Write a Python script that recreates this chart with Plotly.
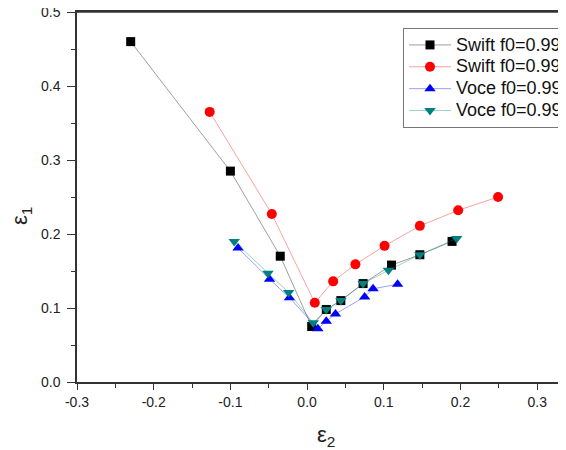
import plotly.graph_objects as go

# Swift f0=0.99
swift099_x = [-0.230, -0.100, -0.035, 0.006, 0.025, 0.044, 0.073, 0.110, 0.147, 0.189]
swift099_y = [0.460, 0.285, 0.170, 0.075, 0.098, 0.110, 0.133, 0.158, 0.172, 0.190]
# Swift f0=0.998
swift0998_x = [-0.127, -0.046, 0.010, 0.034, 0.063, 0.101, 0.147, 0.197, 0.249]
swift0998_y = [0.365, 0.227, 0.107, 0.136, 0.159, 0.184, 0.211, 0.232, 0.250]
# Voce f0=0.99
voce099_x = [-0.090, -0.049, -0.023, 0.014, 0.025, 0.037, 0.075, 0.086, 0.118]
voce099_y = [0.181, 0.139, 0.114, 0.072, 0.082, 0.092, 0.115, 0.126, 0.132]
# Voce f0=0.998
voce0998_x = [-0.095, -0.051, -0.024, 0.008, 0.025, 0.044, 0.073, 0.106, 0.147, 0.195]
voce0998_y = [0.190, 0.147, 0.121, 0.080, 0.098, 0.110, 0.133, 0.151, 0.172, 0.194]

x_ticks = [-0.3, -0.2, -0.1, 0.0, 0.1, 0.2, 0.3]
x_ticklabels = ["-0.3", "-0.2", "-0.1", "0.0", "0.1", "0.2", "0.3"]
y_ticks = [0.0, 0.1, 0.2, 0.3, 0.4, 0.5]
y_ticklabels = ["0.0", "0.1", "0.2", "0.3", "0.4", "0.5"]

series = [
    ("Swift f0=0.99", swift099_x, swift099_y, "#000000", "rgba(0,0,0,0.38)", "square", 9),
    ("Swift f0=0.998", swift0998_x, swift0998_y, "#ff0000", "rgba(255,0,0,0.38)", "circle", 10),
    ("Voce f0=0.99", voce099_x, voce099_y, "#0000ff", "rgba(0,0,255,0.38)", "triangle-up", 10),
    ("Voce f0=0.998", voce0998_x, voce0998_y, "#008080", "rgba(0,128,128,0.38)", "triangle-down", 10),
]

fig = go.Figure()
for name, xs, ys, mc, lc, sym, sz in series:
    fig.add_trace(go.Scatter(
        x=xs, y=ys,
        name='<span style="font-size:18px">' + name + '</span>',
        mode="lines+markers",
        line=dict(color=lc, width=1),
        marker=dict(color=mc, symbol=sym, size=sz, line=dict(width=0)),
    ))

# page body has an 8px default margin; figure is sized to fill the rest
OFF = 8
W, H = 566 - OFF, 450 - OFF
L, T, B = 77 - OFF, 12 - OFF, 450 - 382
PW, PH = W - L, H - T - B

axis_font = dict(family="Liberation Sans, Arial, sans-serif", size=14, color="#222")
fig.update_layout(
    width=W, height=H,
    margin=dict(l=L, r=0, t=T, b=B, autoexpand=False),
    paper_bgcolor="white", plot_bgcolor="white",
    showlegend=True,
    legend=dict(
        x=(403 - 77) / PW, y=(382 - 28) / PH, xanchor="left", yanchor="top",
        bordercolor="#777", borderwidth=1, bgcolor="white",
        font=dict(family="Liberation Sans, Arial, sans-serif", size=14.5, color="#111"),
        tracegroupgap=0, itemwidth=42,
    ),
    xaxis=dict(
        range=[-0.3, -0.3 + PW / 767], tickvals=x_ticks, ticktext=x_ticklabels,
        showgrid=False, zeroline=False, showline=True, linecolor="#333", linewidth=1.5,
        mirror=True, ticks="outside", ticklen=6, tickwidth=1.2, tickcolor="#333",
        tickfont=axis_font,
        minor=dict(dtick=0.05, tick0=0, ticks="outside", ticklen=4, tickwidth=1.2, tickcolor="#333", showgrid=False),
    ),
    yaxis=dict(
        range=[0, 0.5], tickvals=y_ticks, ticktext=y_ticklabels,
        showgrid=False, zeroline=False, showline=True, linecolor="#333", linewidth=1.5,
        mirror=False, ticks="outside", ticklen=8, tickwidth=1.2, tickcolor="#333",
        tickfont=axis_font, ticklabelstandoff=4, ticklabeloverflow="allow",
        minor=dict(dtick=0.05, tick0=0, ticks="outside", ticklen=4, tickwidth=1.2, tickcolor="#333", showgrid=False),
    ),
    shapes=[dict(type="line", xref="paper", yref="paper", x0=0, x1=1, y0=1, y1=1,
                 line=dict(color="#333", width=1.5))],
    annotations=[
        dict(text="ε<sub>2</sub>", xref="paper", yref="paper", x=(326 - 77) / PW, y=(382 - 436) / PH,
             showarrow=False, xanchor="center", yanchor="middle",
             font=dict(family="Liberation Sans, Arial, sans-serif", size=22, color="#222")),
        dict(text="ε<sub>1</sub>", xref="paper", yref="paper", x=(21 - 77) / PW, y=(382 - 216) / PH,
             showarrow=False, xanchor="center", yanchor="middle", textangle=-90,
             font=dict(family="Liberation Sans, Arial, sans-serif", size=22, color="#222")),
    ],
)

fig.write_html("out.html")
